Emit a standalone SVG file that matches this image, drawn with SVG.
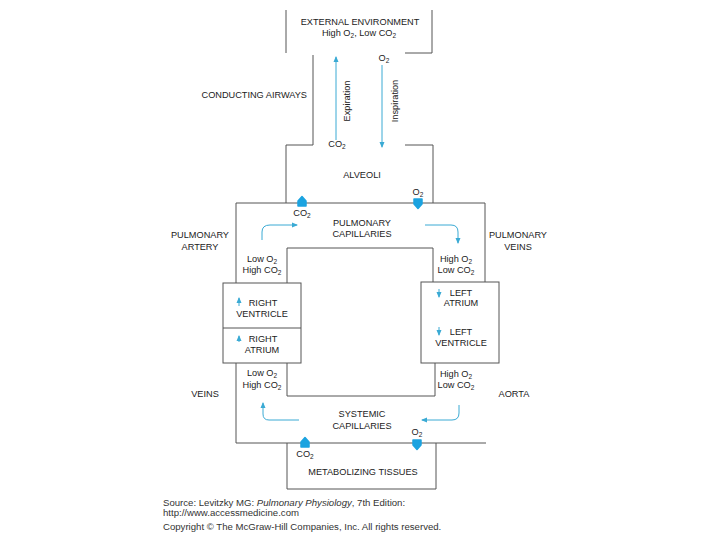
<svg xmlns="http://www.w3.org/2000/svg" width="720" height="540" viewBox="0 0 720 540">
<defs>
<style>
.wall{fill:none;stroke:#555;stroke-width:1}
.flow{fill:none;stroke:#3aaad4;stroke-width:1}
.blob{fill:#1ba3e0;stroke:#1ba3e0;stroke-width:1.5;stroke-linejoin:round}
text{font-family:"Liberation Sans",Arial,sans-serif;font-size:9.2px;fill:#222}
.c{text-anchor:middle}
.foot{font-size:9.6px;fill:#333}
</style>
<marker id="ah" viewBox="0 0 6 6" refX="5" refY="3" markerWidth="6" markerHeight="6" markerUnits="userSpaceOnUse" orient="auto">
<path d="M0,0.5 L6,3 L0,5.5 Z" fill="#3aaad4"/>
</marker>
<path id="up" d="M-4,5 V0 L0,-4.5 L4,0 V5 Z"/>
<path id="down" d="M-4,-5 V0 L0,4.5 L4,0 V-5 Z"/>
</defs>
<rect width="720" height="540" fill="#fff"/>

<g id="external-environment">
<path class="wall" d="M286,10 V53 M432,10 V53 H405"/>
<text class="c" x="360" y="25">EXTERNAL ENVIRONMENT</text>
<text class="c" x="359" y="36">High O<tspan font-size="6.5" dy="2">2</tspan><tspan dy="-2">, Low CO</tspan><tspan font-size="6.5" dy="2">2</tspan></text>
</g>

<g id="conducting-airways">
<path class="wall" d="M313,55 V145 H286 V203 M405,145 H433 V203"/>
<text x="307" y="98" text-anchor="end">CONDUCTING AIRWAYS</text>
<text transform="translate(349.5,101) rotate(-90)" class="c">Expiration</text>
<text transform="translate(397.5,101) rotate(-90)" class="c">Inspiration</text>
<text class="c" x="384" y="61">O<tspan font-size="6.5" dy="2">2</tspan></text>
<text class="c" x="337" y="147">CO<tspan font-size="6.5" dy="2">2</tspan></text>
</g>

<g id="alveoli">
<text class="c" x="362" y="178">ALVEOLI</text>
<text class="c" x="418" y="195">O<tspan font-size="6.5" dy="2">2</tspan></text>
<text class="c" x="302" y="216">CO<tspan font-size="6.5" dy="2">2</tspan></text>
</g>

<g id="pulmonary-capillaries">
<path class="wall" d="M236,283 V203 H485 V282 M287,283 V248 H433 V282"/>
<text class="c" x="362" y="226">PULMONARY</text>
<text class="c" x="362" y="237">CAPILLARIES</text>
</g>

<g id="pulmonary-artery">
<text class="c" x="200" y="238">PULMONARY</text>
<text class="c" x="200" y="250">ARTERY</text>
<text class="c" x="262" y="262">Low O<tspan font-size="6.5" dy="2">2</tspan></text>
<text class="c" x="262" y="273">High CO<tspan font-size="6.5" dy="2">2</tspan></text>
</g>

<g id="pulmonary-veins">
<text class="c" x="518" y="238">PULMONARY</text>
<text class="c" x="518" y="250">VEINS</text>
<text class="c" x="456" y="262">High O<tspan font-size="6.5" dy="2">2</tspan></text>
<text class="c" x="456" y="273">Low CO<tspan font-size="6.5" dy="2">2</tspan></text>
</g>

<g id="right-heart">
<rect class="wall" x="223" y="283" width="78" height="80"/>
<line class="wall" x1="223" y1="328" x2="301" y2="328"/>
<text class="c" x="263" y="306">RIGHT</text>
<text class="c" x="262" y="317">VENTRICLE</text>
<text class="c" x="263" y="342">RIGHT</text>
<text class="c" x="262" y="353">ATRIUM</text>
</g>

<g id="left-heart">
<rect class="wall" x="421" y="282" width="78" height="81"/>
<text class="c" x="461" y="296">LEFT</text>
<text class="c" x="461" y="306">ATRIUM</text>
<text class="c" x="461" y="335">LEFT</text>
<text class="c" x="461" y="346">VENTRICLE</text>
</g>

<g id="veins">
<text class="c" x="205" y="397">VEINS</text>
<text class="c" x="262" y="376">Low O<tspan font-size="6.5" dy="2">2</tspan></text>
<text class="c" x="262" y="388">High CO<tspan font-size="6.5" dy="2">2</tspan></text>
</g>

<g id="aorta">
<text class="c" x="514" y="397">AORTA</text>
<text class="c" x="456" y="377">High O<tspan font-size="6.5" dy="2">2</tspan></text>
<text class="c" x="456" y="388">Low CO<tspan font-size="6.5" dy="2">2</tspan></text>
</g>

<g id="systemic-capillaries">
<path class="wall" d="M236,363 V443 H486 M287,363 V396 H435 V363"/>
<text class="c" x="362" y="417">SYSTEMIC</text>
<text class="c" x="362" y="429">CAPILLARIES</text>
<text class="c" x="417" y="435">O<tspan font-size="6.5" dy="2">2</tspan></text>
<text class="c" x="305" y="457">CO<tspan font-size="6.5" dy="2">2</tspan></text>
</g>

<g id="metabolizing-tissues">
<path class="wall" d="M287,443 V489 H436 V443"/>
<text class="c" x="363" y="475">METABOLIZING TISSUES</text>
</g>

<g id="connectors">
<path class="flow" d="M336,140 V57" marker-end="url(#ah)"/>
<path class="flow" d="M382,65 V147" marker-end="url(#ah)"/>
<path class="flow" d="M262,240 V232 Q262,225 270,225 H297" marker-end="url(#ah)"/>
<path class="flow" d="M425,225 H451 Q458,225 458,232 V243" marker-end="url(#ah)"/>
<path class="flow" d="M239,306 V298" marker-end="url(#ah)"/>
<path class="flow" d="M239,342 V336" marker-end="url(#ah)"/>
<path class="flow" d="M439,289 V297" marker-end="url(#ah)"/>
<path class="flow" d="M439,327 V335" marker-end="url(#ah)"/>
<path class="flow" d="M459,405 V413 Q459,420 452,420 H422" marker-end="url(#ah)"/>
<path class="flow" d="M299,420 H269 Q263,420 263,414 V403" marker-end="url(#ah)"/>
<use href="#up" class="blob" x="302" y="201"/>
<use href="#down" class="blob" x="418" y="204"/>
<use href="#up" class="blob" x="305" y="442"/>
<use href="#down" class="blob" x="417" y="445"/>
</g>

<g id="footer">
<text class="foot" x="163" y="506">Source: Levitzky MG: <tspan font-style="italic">Pulmonary Physiology</tspan>, 7th Edition:</text>
<text class="foot" x="163" y="516" font-size="9px">http://www.accessmedicine.com</text>
<text class="foot" x="163" y="530" font-size="10px">Copyright © The McGraw-Hill Companies, Inc. All rights reserved.</text>
</g>
</svg>
